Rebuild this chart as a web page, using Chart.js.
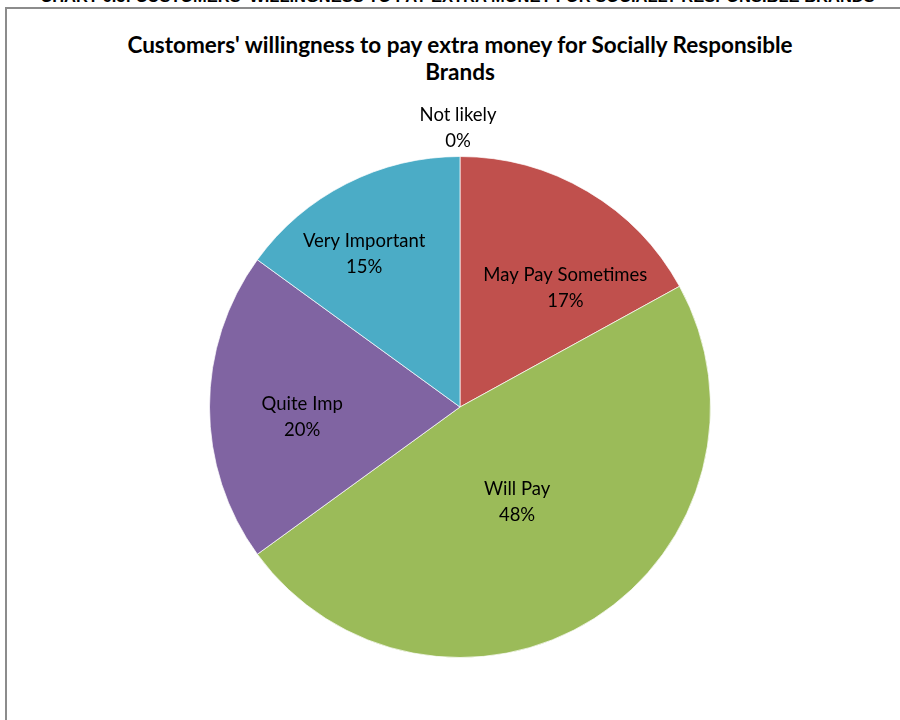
<!DOCTYPE html>
<html lang="en">
<head>
    <meta charset="UTF-8">
    <title>Willingness to pay extra</title>
    <script src="https://cdn.jsdelivr.net/npm/chart.js"></script>
    <style>
      html, body { margin: 0; padding: 0; background: #fff; }
      body { width: 900px; height: 720px; position: relative; overflow: hidden; }
      .caption {
        position: absolute; left: 0; width: 915px; top: -13px;
        text-align: center; font: bold 16.5px "Liberation Sans", Arial, sans-serif;
        color: #000; white-space: nowrap;
      }
      .frame {
        position: absolute; left: 5px; top: 7px; width: 1000px; height: 1000px;
        border-left: 2px solid #8c8c8c; border-top: 2px solid #8c8c8c;
      }
      .title {
        position: absolute; left: 0; top: 31px; width: 920px;
        text-align: center; font: bold 22.5px Lato, "Open Sans", sans-serif;
        line-height: 27px; color: #000;
      }
      #pieChart { position: absolute; left: 0; top: 0; }
    </style>
</head>
<body>
    <div class="caption">CHART 6.5: CUSTOMERS' WILLINGNESS TO PAY EXTRA MONEY FOR SOCIALLY RESPONSIBLE BRANDS</div>
    <div class="frame"></div>
    <div class="title">Customers' willingness to pay extra money for Socially Responsible<br>Brands</div>
    <canvas id="pieChart" width="900" height="720"></canvas>

<script>
    const categories = ['Not likely', 'May Pay Sometimes', 'Will Pay', 'Quite Imp', 'Very Important'];
    const shares = [0, 17, 48, 20, 15];
    const sliceColors = ['#4F81BD', '#C0504D', '#9BBB59', '#8064A2', '#4BACC6'];

    // where each label sits: fraction of the radius along the slice's mid angle, plus a small nudge
    const labelPlacement = [
      { r: 1.12, dx: -2, dy: 2 },
      { r: 0.63, dx: 25, dy: 17 },
      { r: 0.44, dx: -2, dy: 2 },
      { r: 0.63, dx: 0, dy: 10 },
      { r: 0.72, dx: -14, dy: 8 }
    ];

    const sliceLabels = {
      id: 'sliceLabels',
      afterDatasetsDraw(chart) {
        const ctx = chart.ctx;
        const meta = chart.getDatasetMeta(0);
        const total = shares.reduce((a, b) => a + b, 0);
        ctx.save();
        ctx.font = '18.5px Lato, "Open Sans", sans-serif';
        ctx.fillStyle = '#000';
        ctx.textAlign = 'center';
        ctx.textBaseline = 'middle';
        meta.data.forEach((arc, i) => {
          const p = arc.getProps(['x', 'y', 'startAngle', 'endAngle', 'outerRadius'], true);
          const mid = (p.startAngle + p.endAngle) / 2;
          const place = labelPlacement[i];
          const x = p.x + Math.cos(mid) * p.outerRadius * place.r + place.dx;
          const y = p.y + Math.sin(mid) * p.outerRadius * place.r + place.dy;
          const pct = Math.round(shares[i] / total * 100) + '%';
          ctx.fillText(categories[i], x, y - 13);
          ctx.fillText(pct, x, y + 13);
        });
        ctx.restore();
      }
    };

    new Chart(document.getElementById('pieChart'), {
      type: 'pie',
      data: {
        labels: categories,
        datasets: [{
          data: shares,
          backgroundColor: sliceColors,
          borderColor: 'rgba(255,255,255,0.7)',
          borderWidth: 1
        }]
      },
      options: {
        responsive: false,
        animation: false,
        layout: {
          padding: { top: 156, left: 209, right: 189, bottom: 62 }
        },
        plugins: {
          legend: { display: false },
          tooltip: { enabled: false },
          title: { display: false }
        }
      },
      plugins: [sliceLabels]
    });
</script>
</body>
</html>
